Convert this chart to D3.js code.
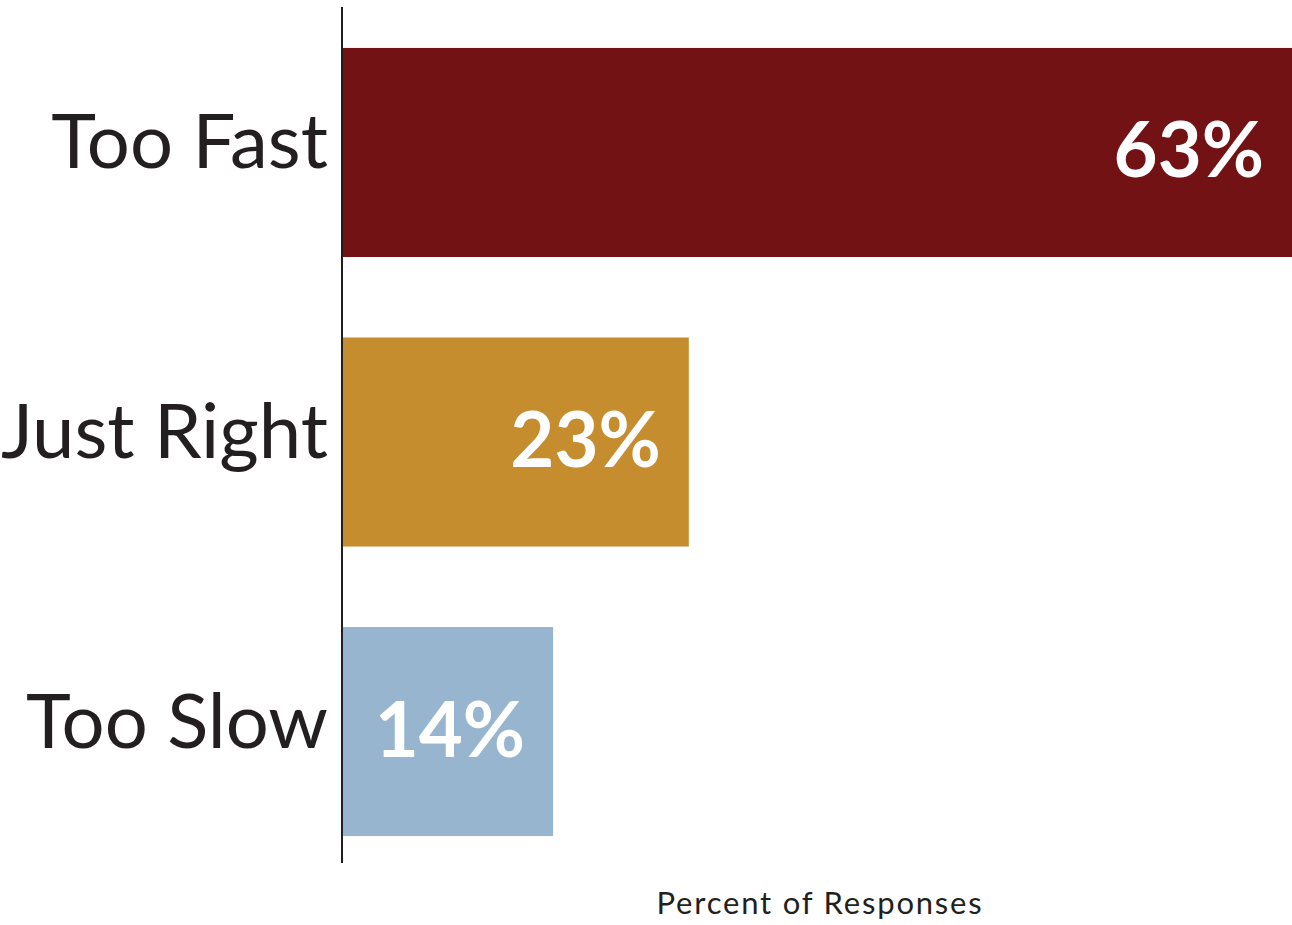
<!DOCTYPE html>
<html>
<head>
<meta charset="utf-8">
<script src="https://cdn.jsdelivr.net/npm/d3@7"></script>
<style>
html,body{margin:0;padding:0;background:#fff;}
svg{display:block;}
</style>
</head>
<body>
<svg id="chart" width="1292" height="925"></svg>
<script>
const categories = ["Too Fast", "Just Right", "Too Slow"];
const values = [63, 23, 14];
const colors = ["#731214", "#C58D2E", "#97B5CF"];
const axisTitle = "Percent of Responses";

const data = categories.map((c, i) => ({cat: c, val: values[i], color: colors[i]}));
const svg = d3.select("#chart");
const font = "'Gill Sans', 'Gill Sans MT', Lato, sans-serif";

const x = d3.scaleLinear().domain([0, 63]).range([342, 1292]);
const y = d3.scaleBand().domain(categories).range([8, 876]).paddingInner(0.278).paddingOuter(0.138);

svg.selectAll("rect.bar").data(data).enter().append("rect")
  .attr("class", "bar")
  .attr("x", x(0))
  .attr("y", d => y(d.cat))
  .attr("width", d => x(d.val) - x(0))
  .attr("height", y.bandwidth())
  .attr("fill", d => d.color);

svg.append("line")
  .attr("x1", x(0)).attr("x2", x(0))
  .attr("y1", 7).attr("y2", 863)
  .attr("stroke", "#231F20").attr("stroke-width", 2);

svg.selectAll("text.cat").data(data).enter().append("text")
  .attr("class", "cat")
  .attr("x", x(0) - 14)
  .attr("y", d => y(d.cat) + y.bandwidth() / 2 + 16)
  .attr("text-anchor", "end")
  .attr("font-family", font)
  .attr("font-size", 76)
  .attr("fill", "#231F20")
  .text(d => d.cat);

svg.selectAll("text.val").data(data).enter().append("text")
  .attr("class", "val")
  .attr("x", d => x(d.val) - 28)
  .attr("y", d => y(d.cat) + y.bandwidth() / 2 + 25)
  .attr("text-anchor", "end")
  .attr("font-family", font)
  .attr("font-weight", "bold")
  .attr("font-size", 76)
  .attr("fill", "#ffffff")
  .text(d => d.val + "%");

svg.append("text")
  .attr("x", 820)
  .attr("y", 914)
  .attr("text-anchor", "middle")
  .attr("font-family", font)
  .attr("font-size", 31)
  .attr("letter-spacing", 1.8)
  .attr("fill", "#231F20")
  .text(axisTitle);
</script>
</body>
</html>
